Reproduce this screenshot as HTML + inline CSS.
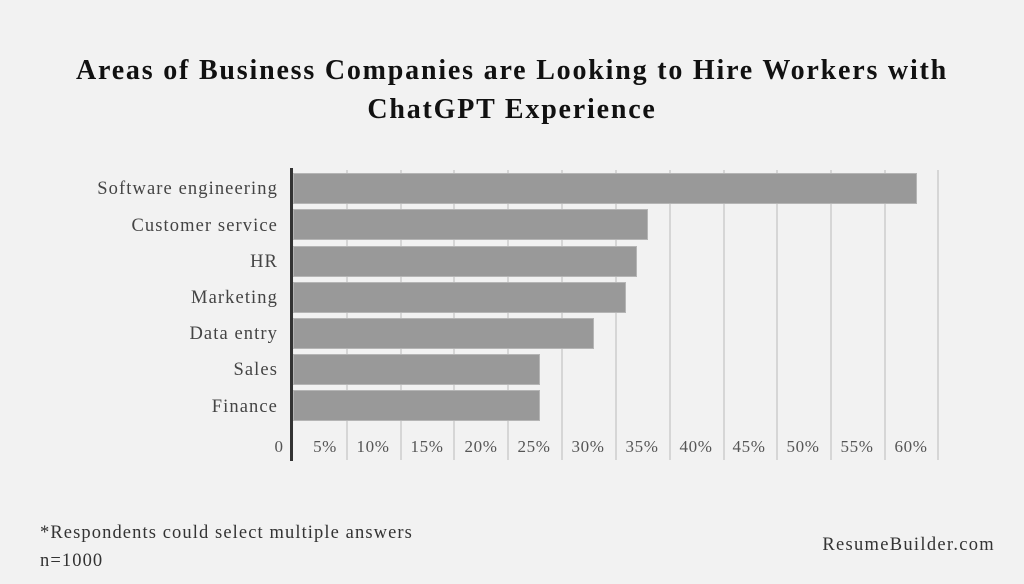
<!DOCTYPE html>
<html><head><style>
body{margin:0;width:1024px;height:584px;background:#f2f2f2;font-family:"Liberation Serif",serif;position:relative;overflow:hidden}
.t{position:absolute;left:0;width:1024px;text-align:center;font-weight:bold;font-size:28px;letter-spacing:1.8px;color:#111}
.c{position:absolute;right:746px;font-size:18.5px;letter-spacing:1.1px;color:#444;white-space:nowrap;line-height:20px}
.g{position:absolute;top:170px;height:290px;width:1.5px;background:#d6d6d6}
.b{position:absolute;left:293px;height:31px;background:#999;border:1px solid #b5b5b5;box-sizing:border-box}
.x{position:absolute;top:437px;font-size:17px;letter-spacing:0.6px;color:#555;width:50px;text-align:center;line-height:20px}
</style></head><body>
<div class="t" style="top:55px">Areas of Business Companies are Looking to Hire Workers with</div>
<div class="t" style="top:94px">ChatGPT Experience</div>
<div class="g" style="left:346px"></div><div class="g" style="left:400px"></div><div class="g" style="left:453px"></div><div class="g" style="left:507px"></div><div class="g" style="left:561px"></div><div class="g" style="left:615px"></div><div class="g" style="left:669px"></div><div class="g" style="left:723px"></div><div class="g" style="left:776px"></div><div class="g" style="left:830px"></div><div class="g" style="left:884px"></div><div class="g" style="left:937px"></div>
<div class="b" style="top:173px;width:624px"></div>
<div class="b" style="top:209px;width:355px"></div>
<div class="b" style="top:246px;width:344px"></div>
<div class="b" style="top:282px;width:333px"></div>
<div class="b" style="top:318px;width:301px"></div>
<div class="b" style="top:354px;width:247px"></div>
<div class="b" style="top:390px;width:247px"></div>
<div style="position:absolute;left:290px;top:168px;width:3px;height:293px;background:#333"></div>
<div class="c" style="top:179px">Software engineering</div>
<div class="c" style="top:216px">Customer service</div>
<div class="c" style="top:252px">HR</div>
<div class="c" style="top:288px">Marketing</div>
<div class="c" style="top:324px">Data entry</div>
<div class="c" style="top:360px">Sales</div>
<div class="c" style="top:397px">Finance</div>
<div class="x" style="left:254px">0</div>
<div class="x" style="left:300px">5%</div><div class="x" style="left:348px">10%</div><div class="x" style="left:402px">15%</div><div class="x" style="left:456px">20%</div><div class="x" style="left:509px">25%</div><div class="x" style="left:563px">30%</div><div class="x" style="left:617px">35%</div><div class="x" style="left:671px">40%</div><div class="x" style="left:724px">45%</div><div class="x" style="left:778px">50%</div><div class="x" style="left:832px">55%</div><div class="x" style="left:886px">60%</div>
<div style="position:absolute;left:40px;top:519px;font-size:18.5px;letter-spacing:1.1px;color:#333;line-height:28px">*Respondents could select multiple answers<br>n=1000</div>
<div style="position:absolute;right:29px;top:535px;font-size:18.5px;letter-spacing:1.3px;color:#333">ResumeBuilder.com</div>
</body></html>
